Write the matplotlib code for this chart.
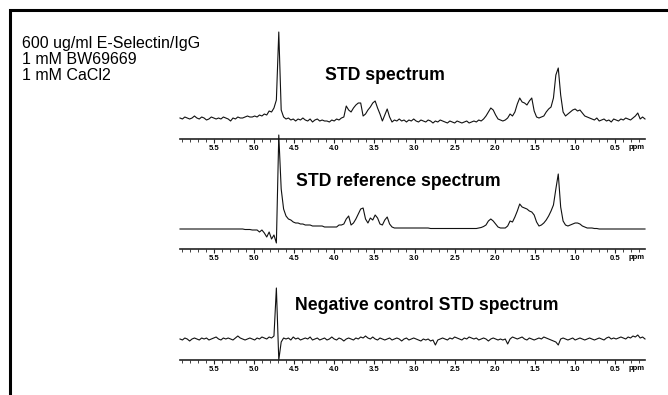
import numpy as np
import matplotlib
matplotlib.use("Agg")
import matplotlib.pyplot as plt
from matplotlib.patches import Rectangle
from matplotlib.ticker import MultipleLocator, FixedLocator

plt.rcParams['font.family'] = ['Liberation Sans', 'DejaVu Sans']

# chemical shift grid (ppm), one intensity value per point
ppm = np.round(5.92 - 0.03 * np.arange(194), 2)

# STD spectrum (a.u.)
std_int = [2, 1, 3, 2, 1, 2, 4, 2, 1, 3,
           2, 0, 1, 3, 2, 1, 2, 1, 3, 2,
           1, -1, 2, 1, 3, 2, 2, 3, 4, 3,
           3, 4, 3, 5, 4, 6, 5, 9, 8, 12,
           20, 88, 10, 3, 1, 2, 0, 1, -1, 1,
           0, 2, 0, -1, 1, -2, 0, 1, -1, 0,
           -1, -1, -2, 0, -1, 1, 0, 2, 3, 14,
           10, 8, 12, 15, 17, 17, 4, 6, 10, 13,
           17, 19, 12, 6, -1, 5, 11, 3, -2, 0,
           -1, 1, -1, 0, -2, 0, -1, 1, -1, -2,
           0, -1, -2, 0, -1, -3, -1, -2, 0, -1,
           -2, -3, -1, -2, -3, -1, -2, -3, -2, -1,
           -3, -2, -1, -2, 0, -1, 1, 4, 8, 12,
           10, 5, 1, 0, -1, 0, 2, 6, 4, 8,
           16, 22, 18, 17, 15, 19, 22, 9, 3, 2,
           3, 4, 8, 11, 13, 22, 45, 52, 25, 8,
           4, 6, 8, 10, 11, 9, 10, 7, 4, 3,
           2, 1, 0, 2, -1, 0, 1, -1, 0, -2,
           1, 0, -1, 1, 0, 2, 1, 0, 2, 4,
           7, 1, 3, 1]

# STD reference spectrum (a.u.)
ref_int = [0, 0, 0, 0, 0, 0, 0, 0, 0, 0,
           0, 0, 0, 0, 0, 0, 0, 0, 0, 0,
           0, 0, 0, 0, 0, 0, 0, -0.5, -0.5, -0.5,
           -1, -1, -1, -3, -1, -4, -8, -3, -10, -6,
           -14, 94, 40, 20, 13, 10, 9, 7, 6, 6,
           5, 5, 4, 4, 4, 3, 3, 3, 3, 3,
           2, 2, 2, 2, 2, 2, 4, 4, 5, 10,
           13, 4, 6, 10, 15, 20, 21, 10, 6, 11,
           9, 14, 11, 5, 4, 9, 12, 5, 2, 1,
           1, 1, 1, 1, 1, 1, 1, 1, 1, 1,
           1, 1, 1, 1, 0.5, 0.5, 0.5, 0.5, 0.5, 0.5,
           0.5, 0.5, 0.5, 0.5, 0.5, 0.5, 0.5, 0.5, 0.5, 0.5,
           0.5, 0.5, 0.5, 0.5, 1, 1.5, 2.5, 4, 8, 10,
           8, 5, 2, 1, 1, 1, 3, 8, 7, 12,
           18, 25, 22, 21, 20, 18, 17, 14, 7, 3,
           4, 6, 9, 13, 18, 24, 40, 55, 22, 8,
           4, 3, 4, 5, 6, 6, 5, 3, 2, 1,
           1, 1, 0.5, 0.5, 0, 0, 0, 0, 0, 0,
           0, 0, 0, 0, 0, 0, 0, 0, 0, 0,
           0, 0, 0, 0]

# negative control STD spectrum (a.u.)
neg_int = [0, -1, 1, 0, -2, 0, 1, 0, -1, 1,
           0, 1, -1, 0, 1, 2, 0, -1, 1, 0,
           1, 0, -1, 1, 3, 1, 0, -1, 0, 1,
           0, -1, 1, 0, 2, 1, 0, 2, 1, 3,
           51, -21, -3, 1, 0, 1, -1, 2, 0, 1,
           -1, 0, 1, 0, 2, -1, 0, 1, -1, 0,
           1, -1, 0, 2, 0, -1, 1, 0, -2, 0,
           1, 0, -1, 1, 0, 2, 1, 3, 1, 0,
           2, 0, -1, 1, 0, -1, 0, 1, -1, 0,
           1, 0, -2, 0, 1, -1, 0, 1, 0, -1,
           -2, 0, -1, 0, -2, -1, -6, -1, 0, 1,
           0, -1, 1, 0, 2, 1, 0, -1, 1, 0,
           2, 1, 0, 1, -1, 0, 1, 0, -2, 0,
           1, 0, -1, 0, -1, 0, -5, 0, 2, 1,
           0, 1, 2, 0, -1, 1, 0, -1, 0, 1,
           0, 2, 1, 0, -1, -2, -3, -6, 0, 1,
           0, -1, 0, 1, -1, 0, 1, 0, -1, 0,
           1, 0, -1, 0, 1, 0, -1, 1, 2, 0,
           1, 0, 1, 2, 1, 0, 2, 1, 3, 2,
           4, 1, 2, 0]

titles = ["STD spectrum", "STD reference spectrum", "Negative control STD spectrum"]
header = "600 ug/ml E-Selectin/IgG\n1 mM BW69669\n1 mM CaCl2"
major_ppm = [5.5, 5.0, 4.5, 4.0, 3.5, 3.0, 2.5, 2.0, 1.5, 1.0, 0.5]

W, H = 668, 395
fig = plt.figure(figsize=(W / 100, H / 100), dpi=100)

# axes placement in pixels: (axis line y, top y, lower ylim)
panels = [(139, 20, -19), (249, 130, -20), (360, 240, -21)]
x0, x1 = 180, 645
spectra = [std_int, ref_int, neg_int]

for (ybot, ytop, ylo), sp in zip(panels, spectra):
    ax = fig.add_axes([x0 / W, 1 - ybot / H, (x1 - x0) / W, (ybot - ytop) / H])
    ax.patch.set_visible(False)
    ax.plot(ppm, sp, color='#111111', lw=0.8, clip_on=False)
    ax.set_xlim(5.92, 0.13)
    ax.set_ylim(ylo, ylo + (ybot - ytop))
    for s in ['top', 'left', 'right']:
        ax.spines[s].set_visible(False)
    ax.spines['bottom'].set_linewidth(1.2)
    ax.spines['bottom'].set_color('#222222')
    ax.set_yticks([])
    ax.xaxis.set_major_locator(FixedLocator(major_ppm))
    ax.xaxis.set_minor_locator(MultipleLocator(0.1))
    ax.xaxis.set_major_formatter(plt.FuncFormatter(lambda v, p: f"{v:.1f}"))
    ax.tick_params(axis='x', which='major', length=3, width=0.8, pad=1.5,
                   labelsize=5.5, color='#222222')
    ax.tick_params(axis='x', which='minor', length=1.8, width=0.6, color='#222222')
    for lab in ax.get_xticklabels():
        lab.set_fontweight('bold')
    fig.text(x1 / W, 1 - (ybot + 5) / H, "ppm", fontsize=5.5, fontweight='bold',
             ha='right', va='top')

# titles
fig.text(325 / W, 1 - 75 / H, titles[0], fontsize=12.7, fontweight='bold', va='center', ha='left')
fig.text(296 / W, 1 - 182 / H, titles[1], fontsize=12.7, fontweight='bold', va='center', ha='left')
fig.text(295 / W, 1 - 305 / H, titles[2], fontsize=12.7, fontweight='bold', va='center', ha='left')

fig.text(22 / W, 1 - 36 / H, header, fontsize=11.5, va='top', ha='left', linespacing=1.1)

# frame (top and left edges visible)
fig.add_artist(Rectangle((9.5 / W, -0.05), 1.0, 1.05 - 10.5 / H, transform=fig.transFigure,
                         fill=False, lw=2.2, edgecolor='black'))

fig.savefig("out.png", dpi=100)
